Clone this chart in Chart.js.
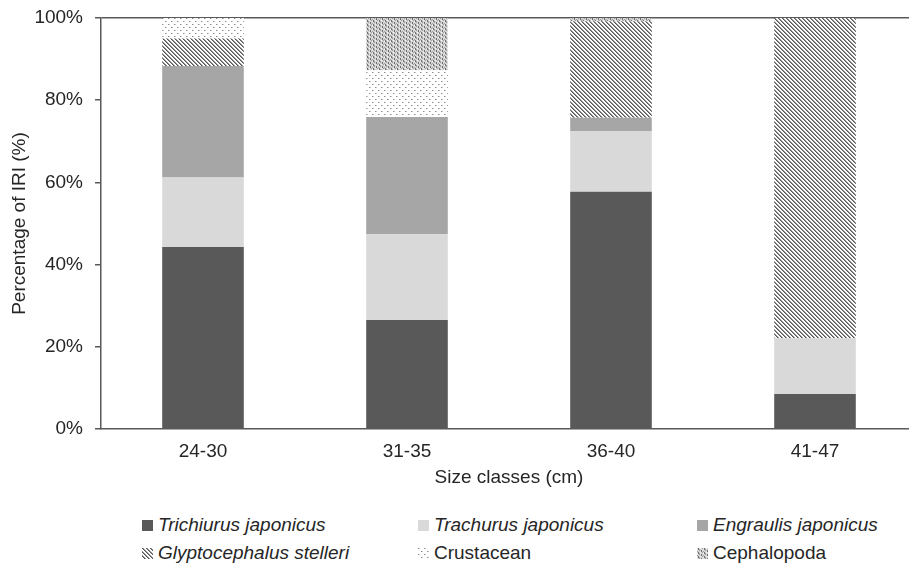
<!DOCTYPE html>
<html>
<head>
<meta charset="utf-8">
<script src="https://cdn.jsdelivr.net/npm/chart.js@4/dist/chart.umd.min.js"></script>
<style>
  html, body { margin: 0; padding: 0; background: #fff; overflow: hidden; }
  #wrap { position: relative; width: 909px; height: 568px; overflow: hidden; background: #fff; }
  #cbox { position: absolute; left: 0; top: 0; width: 917px; height: 492px; }
  .lg { position: absolute; font-family: "Liberation Sans", Arial, sans-serif; font-size: 19px; color: #262626; white-space: nowrap; line-height: 22px; }
  .lg canvas { position: absolute; left: 0; top: 6px; }
  .lg span { position: absolute; left: 16px; top: 0; }
  .it { font-style: italic; }
</style>
</head>
<body>
<div id="wrap">
  <div id="cbox"><canvas id="c" width="917" height="492"></canvas></div>
  <div id="legend"></div>
</div>
<script>
const categories = ['24-30', '31-35', '36-40', '41-47'];
const trichiurus = [44.3, 26.5, 57.7, 8.5];
const trachurus = [16.9, 20.9, 14.8, 13.6];
const engraulis = [27.1, 28.5, 3.2, 0];
const glyptocephalus = [6.7, 0, 23.5, 77.9];
const crustacean = [5.0, 11.4, 0, 0];
const cephalopoda = [0, 12.7, 0.8, 0];
const seriesNames = ['Trichiurus japonicus', 'Trachurus japonicus', 'Engraulis japonicus',
                     'Glyptocephalus stelleri', 'Crustacean', 'Cephalopoda'];
const italicFlags = [true, true, true, true, false, false];
const yTicks = [0, 20, 40, 60, 80, 100];

function makePattern(kind) {
  const c = document.createElement('canvas');
  const g = c.getContext('2d');
  if (kind === 'diag') {
    c.width = 4; c.height = 4;
    g.fillStyle = '#ffffff'; g.fillRect(0, 0, 4, 4);
    for (let i = 0; i < 4; i++) {
      g.fillStyle = '#555555'; g.fillRect(i, i, 1, 1);
      g.fillStyle = '#959595'; g.fillRect((i + 1) % 4, i, 1, 1);
    }
  } else if (kind === 'dots') {
    c.width = 6; c.height = 6;
    g.fillStyle = '#ffffff'; g.fillRect(0, 0, 6, 6);
    g.fillStyle = '#8c8c8c';
    g.fillRect(0, 0, 1, 1);
    g.fillRect(3, 3, 1, 1);
    g.fillStyle = '#c8c8c8';
    g.fillRect(1, 0, 1, 1);
    g.fillRect(4, 3, 1, 1);
  } else if (kind === 'vert') {
    c.width = 6; c.height = 4;
    g.fillStyle = '#d6d6d6'; g.fillRect(0, 0, 6, 4);
    g.fillStyle = '#6e6e6e';
    g.fillRect(1, 0, 1, 2);
    g.fillRect(4, 2, 1, 2);
    g.fillStyle = '#a0a0a0';
    g.fillRect(2, 1, 1, 2);
    g.fillRect(5, 0, 1, 1);
    g.fillRect(0, 3, 1, 1);
    g.fillStyle = '#f2f2f2';
    g.fillRect(3, 0, 1, 1);
    g.fillRect(0, 1, 1, 1);
  }
  return g.createPattern(c, 'repeat');
}

const fills = ['#595959', '#d9d9d9', '#a6a6a6', makePattern('diag'), makePattern('dots'), makePattern('vert')];
const values = [trichiurus, trachurus, engraulis, glyptocephalus, crustacean, cephalopoda];

const datasets = values.map((v, i) => ({
  label: seriesNames[i],
  data: v,
  backgroundColor: fills[i],
  borderWidth: 0,
  categoryPercentage: 1.0,
  barPercentage: 0.4
}));

const font = { family: '"Liberation Sans", Arial, sans-serif', size: 19 };

new Chart(document.getElementById('c'), {
  type: 'bar',
  data: { labels: categories, datasets },
  options: {
    responsive: false,
    animation: false,
    layout: { padding: { left: 4, top: 18, right: 0, bottom: 0 } },
    plugins: { legend: { display: false }, tooltip: { enabled: false } },
    scales: {
      x: {
        stacked: true,
        afterFit: (s) => { s.height = 63; s.paddingLeft = 0; s.paddingRight = 0; },
        grid: { display: false, drawTicks: false },
        border: { display: true, color: '#595959', width: 1.5 },
        ticks: { font, color: '#262626', padding: 11 },
        title: { display: true, text: 'Size classes (cm)', font, color: '#262626', padding: { top: 3, bottom: 3 } }
      },
      y: {
        stacked: true,
        min: 0, max: 100,
        afterFit: (s) => { s.width = 97; s.paddingTop = 0; s.paddingBottom = 0; },
        afterBuildTicks: (s) => { s.ticks = yTicks.map(v => ({ value: v })); },
        grid: {
          color: (ctx) => (ctx.tick && ctx.tick.value === 100) ? '#595959' : 'rgba(0,0,0,0)',
          lineWidth: 1.5,
          tickColor: '#595959',
          tickLength: 6,
          drawTicks: true
        },
        border: { display: true, color: '#595959', width: 1.5 },
        ticks: { font, color: '#262626', padding: 12, callback: (v) => v + '%' },
        title: { display: true, text: 'Percentage of IRI (%)', font, color: '#262626', padding: { top: 4, bottom: 5 } }
      }
    }
  }
});

// HTML legend
const legendPos = [
  { x: 142, y: 514 }, { x: 418, y: 514 }, { x: 697, y: 514 },
  { x: 142, y: 542 }, { x: 418, y: 542 }, { x: 697, y: 542 }
];
const lg = document.getElementById('legend');
seriesNames.forEach((name, i) => {
  const d = document.createElement('div');
  d.className = 'lg';
  d.style.left = legendPos[i].x + 'px';
  d.style.top = legendPos[i].y + 'px';
  const sw = document.createElement('canvas');
  sw.width = 11; sw.height = 11;
  const g = sw.getContext('2d');
  g.fillStyle = fills[i];
  g.fillRect(0, 0, 11, 11);
  const sp = document.createElement('span');
  sp.textContent = name;
  if (italicFlags[i]) sp.className = 'it';
  d.appendChild(sw);
  d.appendChild(sp);
  lg.appendChild(d);
});
</script>
</body>
</html>
